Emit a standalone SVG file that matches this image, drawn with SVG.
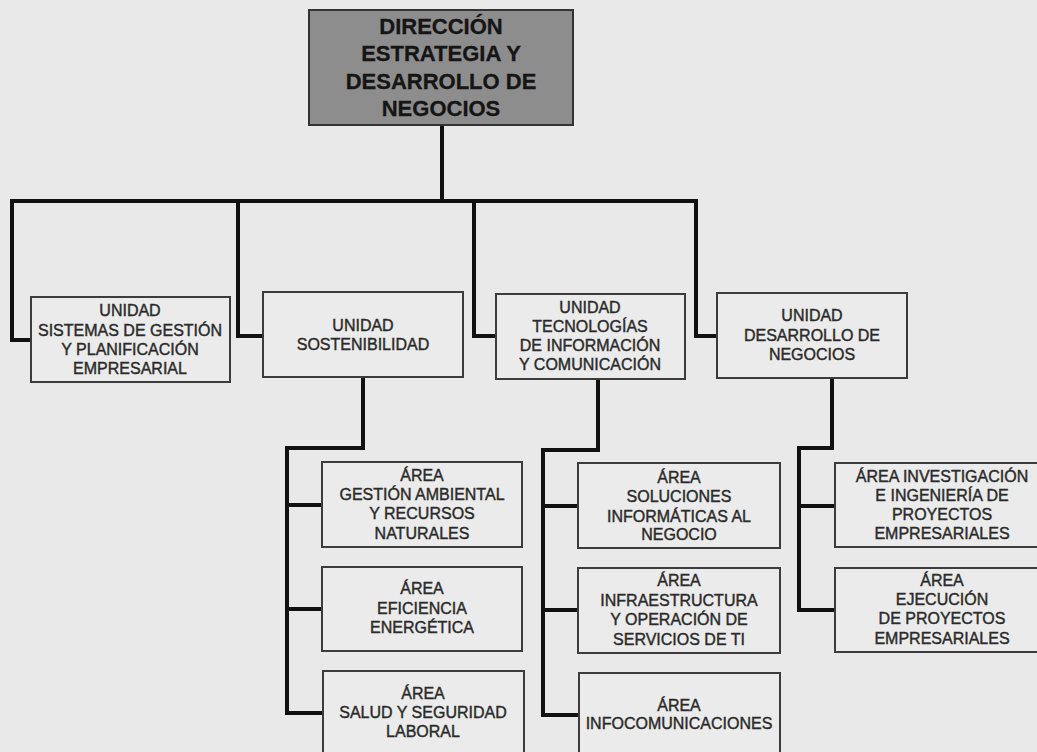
<svg xmlns="http://www.w3.org/2000/svg" width="1037" height="752" viewBox="0 0 1037 752">
<style>
.bg{fill:#e9e9e9}
.box{fill:#ebebeb;stroke:#3c3c3c;stroke-width:2}
.top{fill:#8d8d8d;stroke:#333;stroke-width:2}
.t{font-family:"Liberation Sans",Arial,sans-serif;font-size:16px;fill:#2a2a2a;stroke:#2a2a2a;stroke-width:0.4;text-anchor:middle}
.tt{font-family:"Liberation Sans",Arial,sans-serif;font-size:22px;font-weight:bold;fill:#151515;stroke:#151515;stroke-width:0.3;text-anchor:middle}
.c{fill:none;stroke:#111;stroke-width:4;stroke-linejoin:miter;stroke-linecap:square}
</style>
<rect class="bg" x="0" y="0" width="1037" height="752"/>
<g id="connectors">
<path class="c" d="M442 126 V201"/>
<path class="c" d="M12 201 H696"/>
<path class="c" d="M12 201 V340 H30"/>
<path class="c" d="M238 201 V336 H262"/>
<path class="c" d="M474 201 V336 H495"/>
<path class="c" d="M696 201 V336 H716"/>
<path class="c" d="M363 378 V448 H287 V713 H321"/>
<path class="c" d="M287 505 H321"/>
<path class="c" d="M287 609 H321"/>
<path class="c" d="M598 380 V450 H543 V715 H577"/>
<path class="c" d="M543 506 H577"/>
<path class="c" d="M543 610 H577"/>
<path class="c" d="M832 379 V448 H799 V610 H834"/>
<path class="c" d="M799 506 H834"/>
</g>
<g id="direccion">
<rect class="top" x="309" y="10" width="264" height="115"/>
<text class="tt" x="441" y="34">DIRECCIÓN</text>
<text class="tt" x="441" y="61">ESTRATEGIA Y</text>
<text class="tt" x="441" y="89">DESARROLLO DE</text>
<text class="tt" x="441" y="116">NEGOCIOS</text>
</g>
<g id="u-sistemas">
<rect class="box" x="31" y="297" width="199" height="85"/>
<text class="t" x="130" y="316">UNIDAD</text>
<text class="t" x="130" y="336">SISTEMAS DE GESTIÓN</text>
<text class="t" x="130" y="355">Y PLANIFICACIÓN</text>
<text class="t" x="130" y="374">EMPRESARIAL</text>
</g>
<g id="u-sostenibilidad">
<rect class="box" x="263" y="292" width="200" height="85"/>
<text class="t" x="363" y="331">UNIDAD</text>
<text class="t" x="363" y="350">SOSTENIBILIDAD</text>
</g>
<g id="u-tic">
<rect class="box" x="496" y="294" width="189" height="85"/>
<text class="t" x="590" y="313">UNIDAD</text>
<text class="t" x="590" y="332">TECNOLOGÍAS</text>
<text class="t" x="590" y="351">DE INFORMACIÓN</text>
<text class="t" x="590" y="370">Y COMUNICACIÓN</text>
</g>
<g id="u-desarrollo">
<rect class="box" x="717" y="293" width="190" height="85"/>
<text class="t" x="812" y="321">UNIDAD</text>
<text class="t" x="812" y="341">DESARROLLO DE</text>
<text class="t" x="812" y="360">NEGOCIOS</text>
</g>
<g id="a-gestion">
<rect class="box" x="322" y="462" width="200" height="85"/>
<text class="t" x="422" y="481">ÁREA</text>
<text class="t" x="422" y="500">GESTIÓN AMBIENTAL</text>
<text class="t" x="422" y="519">Y RECURSOS</text>
<text class="t" x="422" y="539">NATURALES</text>
</g>
<g id="a-eficiencia">
<rect class="box" x="322" y="567" width="200" height="84"/>
<text class="t" x="422" y="594">ÁREA</text>
<text class="t" x="422" y="614">EFICIENCIA</text>
<text class="t" x="422" y="633">ENERGÉTICA</text>
</g>
<g id="a-salud">
<rect class="box" x="323" y="671" width="201" height="95"/>
<text class="t" x="423" y="699">ÁREA</text>
<text class="t" x="423" y="718">SALUD Y SEGURIDAD</text>
<text class="t" x="423" y="737">LABORAL</text>
</g>
<g id="a-soluciones">
<rect class="box" x="578" y="463" width="202" height="85"/>
<text class="t" x="679" y="483">ÁREA</text>
<text class="t" x="679" y="502">SOLUCIONES</text>
<text class="t" x="679" y="522">INFORMÁTICAS AL</text>
<text class="t" x="679" y="540">NEGOCIO</text>
</g>
<g id="a-infraestructura">
<rect class="box" x="578" y="568" width="202" height="85"/>
<text class="t" x="679" y="586">ÁREA</text>
<text class="t" x="679" y="606">INFRAESTRUCTURA</text>
<text class="t" x="679" y="625">Y OPERACIÓN DE</text>
<text class="t" x="679" y="645">SERVICIOS  DE TI</text>
</g>
<g id="a-infocom">
<rect class="box" x="579" y="673" width="201" height="95"/>
<text class="t" x="679" y="711">ÁREA</text>
<text class="t" x="679" y="729">INFOCOMUNICACIONES</text>
</g>
<g id="a-investigacion">
<rect class="box" x="835" y="463" width="215" height="84"/>
<text class="t" x="942" y="482">ÁREA INVESTIGACIÓN</text>
<text class="t" x="942" y="501">E INGENIERÍA DE</text>
<text class="t" x="942" y="520">PROYECTOS</text>
<text class="t" x="942" y="539">EMPRESARIALES</text>
</g>
<g id="a-ejecucion">
<rect class="box" x="835" y="568" width="215" height="84"/>
<text class="t" x="942" y="586">ÁREA</text>
<text class="t" x="942" y="605">EJECUCIÓN</text>
<text class="t" x="942" y="624">DE PROYECTOS</text>
<text class="t" x="942" y="644">EMPRESARIALES</text>
</g>
</svg>
